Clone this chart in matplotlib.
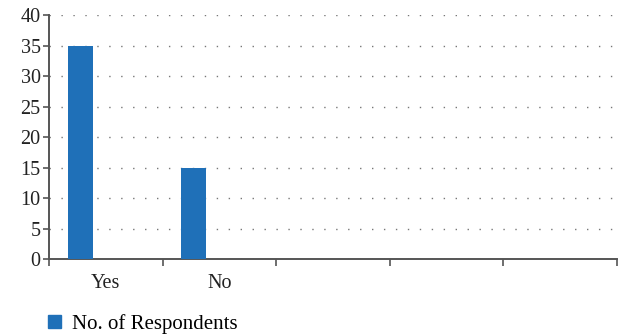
import numpy as np
import matplotlib.pyplot as plt
from matplotlib.patches import Patch

categories = ['Yes', 'No', '', '', '']
respondents = [35, 15, np.nan, np.nan, np.nan]
yticks = [0, 5, 10, 15, 20, 25, 30, 35, 40]

bar_color = '#1f70b8'
plt.rcParams['font.family'] = ['Liberation Serif', 'DejaVu Serif']

fig = plt.figure(figsize=(6.18, 3.36), dpi=100)
ax = fig.add_axes([0.0793, 0.229, 0.9187, 0.726])

x = np.arange(len(categories))
# bars sit left of the category centre, like a clustered bar with one series shown
ax.bar(x - 0.225, respondents, width=0.22, color=bar_color, zorder=3)

ax.set_xlim(-0.5, len(categories) - 0.5)
ax.set_ylim(0, 40)
ax.set_yticks(yticks)
ax.set_xticks(x)
ax.set_xticklabels(categories)
ax.set_xticks(np.arange(-0.5, len(categories)), minor=True)
ax.tick_params(axis='x', which='major', length=0, labelsize=14.5, pad=11, colors='#222222')
ax.tick_params(axis='x', which='minor', length=5, width=1.2, color='#555555')
ax.tick_params(axis='y', length=4, width=1.2, color='#555555', labelsize=14.5, pad=2,
               labelcolor='#222222')

ax.yaxis.grid(True, linestyle=(0, (1, 7.6)), color='#777777', linewidth=1, zorder=0)
for side in ['top', 'right']:
    ax.spines[side].set_visible(False)
for side in ['left', 'bottom']:
    ax.spines[side].set_color('#555555')
    ax.spines[side].set_linewidth(1.4)

fig.legend(handles=[Patch(color=bar_color, label='No. of Respondents')],
           loc='lower left', bbox_to_anchor=(0.048, -0.05), frameon=False,
           handlelength=0.6, handleheight=0.6, handletextpad=0.55, fontsize=15)

fig.savefig('out.png', dpi=100)
